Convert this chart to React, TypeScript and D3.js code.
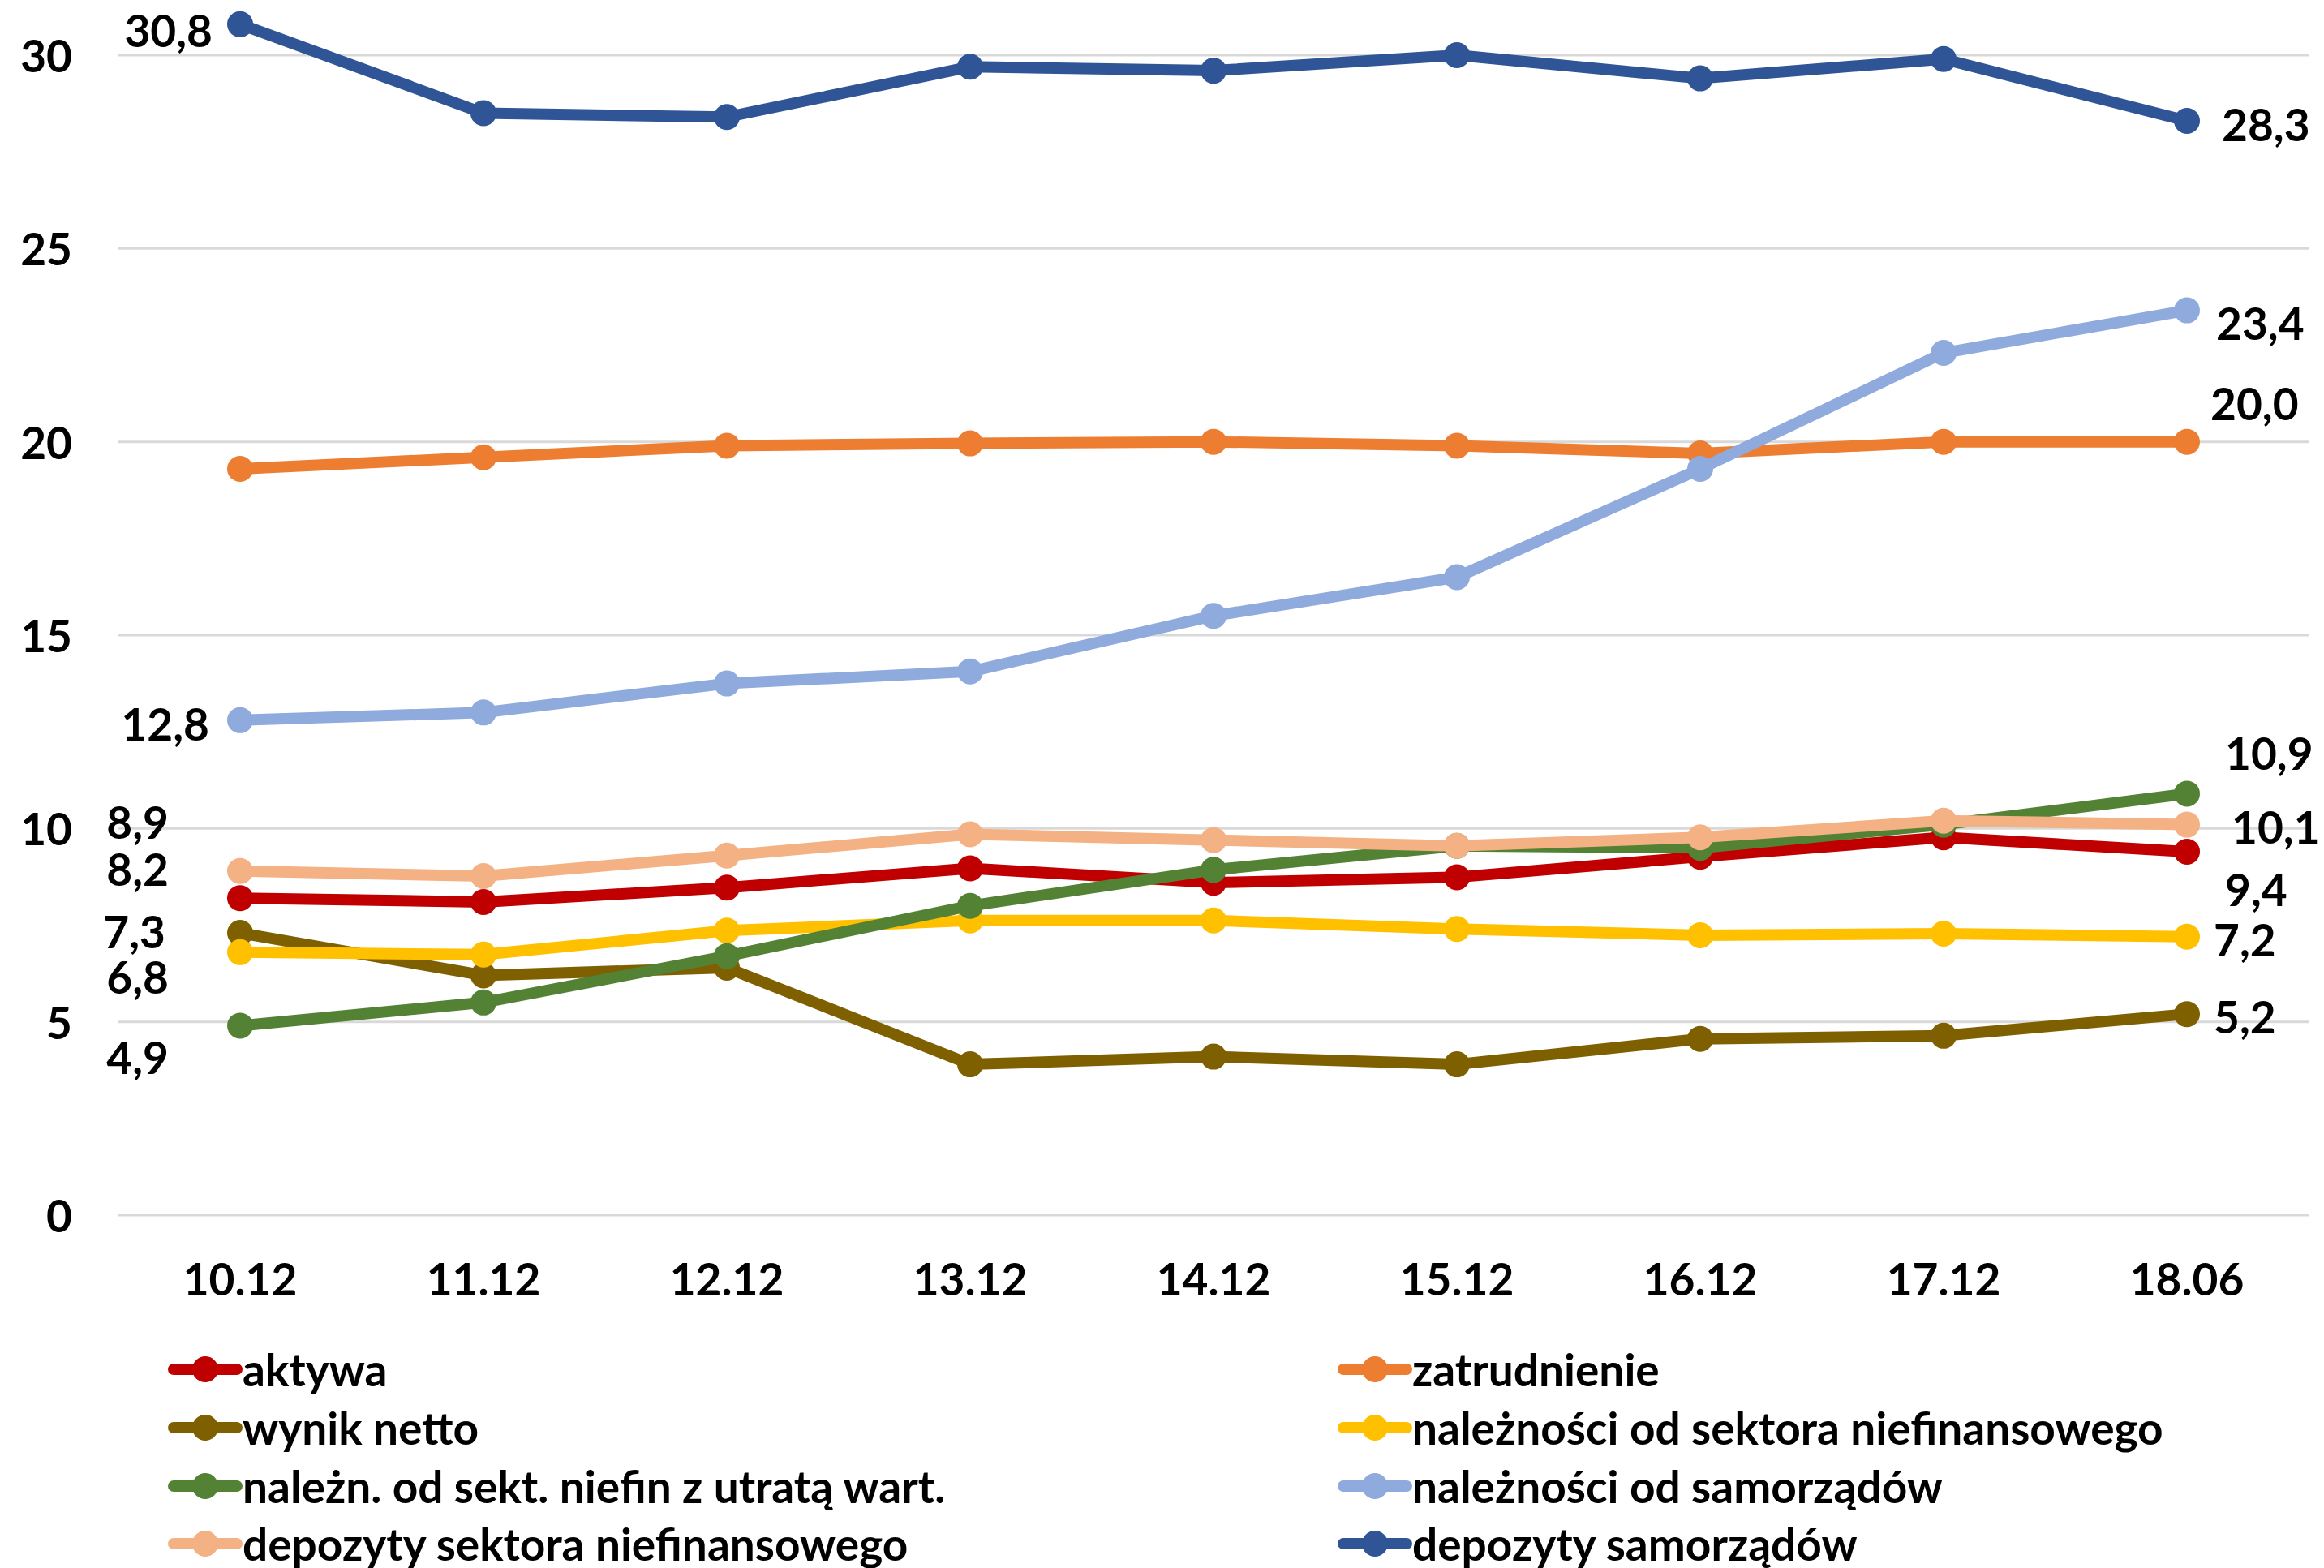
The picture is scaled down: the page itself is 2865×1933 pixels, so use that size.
import React from "react";
import * as d3 from "d3";

const categories = ["10.12", "11.12", "12.12", "13.12", "14.12", "15.12", "16.12", "17.12", "18.06"];

const aktywa = [8.2, 8.1, 8.47, 8.97, 8.6, 8.74, 9.27, 9.77, 9.4];
const zatrudnienie = [19.3, 19.6, 19.9, 19.96, 20.0, 19.9, 19.7, 20.0, 20.0];
const wynikNetto = [7.3, 6.2, 6.4, 3.9, 4.1, 3.9, 4.56, 4.64, 5.2];
const naleznosciSektora = [6.8, 6.74, 7.36, 7.62, 7.62, 7.4, 7.24, 7.28, 7.2];
const naleznUtrata = [4.9, 5.5, 6.7, 8.0, 8.93, 9.55, 9.5, 10.1, 10.9];
const naleznosciSamorzadow = [12.8, 13.0, 13.75, 14.06, 15.5, 16.5, 19.3, 22.3, 23.4];
const depozytySektora = [8.9, 8.77, 9.3, 9.85, 9.7, 9.55, 9.77, 10.2, 10.1];
const depozytySamorzadow = [30.8, 28.5, 28.4, 29.7, 29.6, 30.0, 29.4, 29.9, 28.3];

const seriesNames = [
  "aktywa",
  "zatrudnienie",
  "wynik netto",
  "należności od sektora niefinansowego",
  "należn. od sekt. niefin z utratą wart.",
  "należności od samorządów",
  "depozyty sektora niefinansowego",
  "depozyty samorządów",
];
const seriesValues = [
  aktywa,
  zatrudnienie,
  wynikNetto,
  naleznosciSektora,
  naleznUtrata,
  naleznosciSamorzadow,
  depozytySektora,
  depozytySamorzadow,
];
const seriesColors = ["#C00000", "#ED7D31", "#7F6000", "#FFC000", "#548235", "#8FAADC", "#F4B183", "#2F5597"];

const yTicks = [0, 5, 10, 15, 20, 25, 30];

// data labels: [series index, point index, text]
const dataLabels: [number, number, string][] = [
  [7, 0, "30,8"],
  [7, 8, "28,3"],
  [5, 8, "23,4"],
  [1, 8, "20,0"],
  [5, 0, "12,8"],
  [4, 8, "10,9"],
  [6, 8, "10,1"],
  [0, 8, "9,4"],
  [3, 8, "7,2"],
  [2, 8, "5,2"],
  [6, 0, "8,9"],
  [0, 0, "8,2"],
  [2, 0, "7,3"],
  [3, 0, "6,8"],
  [4, 0, "4,9"],
];
// label placement offsets (dx, dy) relative to the point, style only
const labelOffsets: [number, number][] = [
  [-34, 7],
  [43, 4],
  [36, 15],
  [29, -48],
  [-38, 4],
  [47, -50],
  [55, 2],
  [47, 46],
  [33, 3],
  [33, 3],
  [-88, -61],
  [-88, -36],
  [-92, -2],
  [-88, 30],
  [-88, 39],
];

const W = 2865;
const H = 1933;
const FONT = "Lato, 'Open Sans', sans-serif";
const FS = 55;
const LW = 14;
const R = 16;

export default function App() {
  const x = d3.scalePoint<string>().domain(categories).range([146, 2846]).padding(0.5);
  const y = d3.scaleLinear().domain([0, 30]).range([1498, 68]);
  const line = d3
    .line<number>()
    .x((_, i) => x(categories[i]) as number)
    .y((d) => y(d));

  const legendCols = [210, 1652];
  const legendRows = [1688, 1760, 1832, 1903];

  return (
    <svg
      width={W}
      height={H}
      style={{ position: "absolute", left: 0, top: 0, background: "#fff" }}
      fontFamily={FONT}
      fontWeight={700}
    >
      <rect width={W} height={H} fill="#fff" />
      {yTicks.map((t) => (
        <g key={t}>
          <line x1={146} x2={2846} y1={y(t)} y2={y(t)} stroke="#D9D9D9" strokeWidth={3} />
          <text x={89} y={y(t)} textAnchor="end" dominantBaseline="central" fontSize={FS} fill="#000">
            {t}
          </text>
        </g>
      ))}
      {categories.map((c) => (
        <text key={c} x={x(c)} y={1576} textAnchor="middle" dominantBaseline="central" fontSize={FS} fill="#000">
          {c}
        </text>
      ))}
      {seriesValues.map((vals, si) => (
        <g key={si}>
          <path
            d={line(vals) || ""}
            fill="none"
            stroke={seriesColors[si]}
            strokeWidth={LW}
            strokeLinejoin="round"
            strokeLinecap="round"
          />
          {vals.map((v, i) => (
            <circle key={i} cx={x(categories[i])} cy={y(v)} r={R} fill={seriesColors[si]} />
          ))}
        </g>
      ))}
      {dataLabels.map(([si, pi, txt], k) => {
        const [dx, dy] = labelOffsets[k];
        const px = x(categories[pi]) as number;
        const py = y(seriesValues[si][pi]);
        return (
          <text
            key={k}
            x={px + dx}
            y={py + dy}
            textAnchor={dx < 0 ? "end" : "start"}
            dominantBaseline="central"
            fontSize={FS}
            fill="#000"
          >
            {txt}
          </text>
        );
      })}
      {seriesNames.map((name, si) => {
        const col = si % 2;
        const row = Math.floor(si / 2);
        const lx = legendCols[col];
        const ly = legendRows[row];
        return (
          <g key={name}>
            <line x1={lx + 4} x2={lx + 82} y1={ly} y2={ly} stroke={seriesColors[si]} strokeWidth={LW} strokeLinecap="round" />
            <circle cx={lx + 43} cy={ly} r={R} fill={seriesColors[si]} />
            <text x={lx + 89} y={ly} dominantBaseline="central" fontSize={FS} fill="#000">
              {name}
            </text>
          </g>
        );
      })}
    </svg>
  );
}
